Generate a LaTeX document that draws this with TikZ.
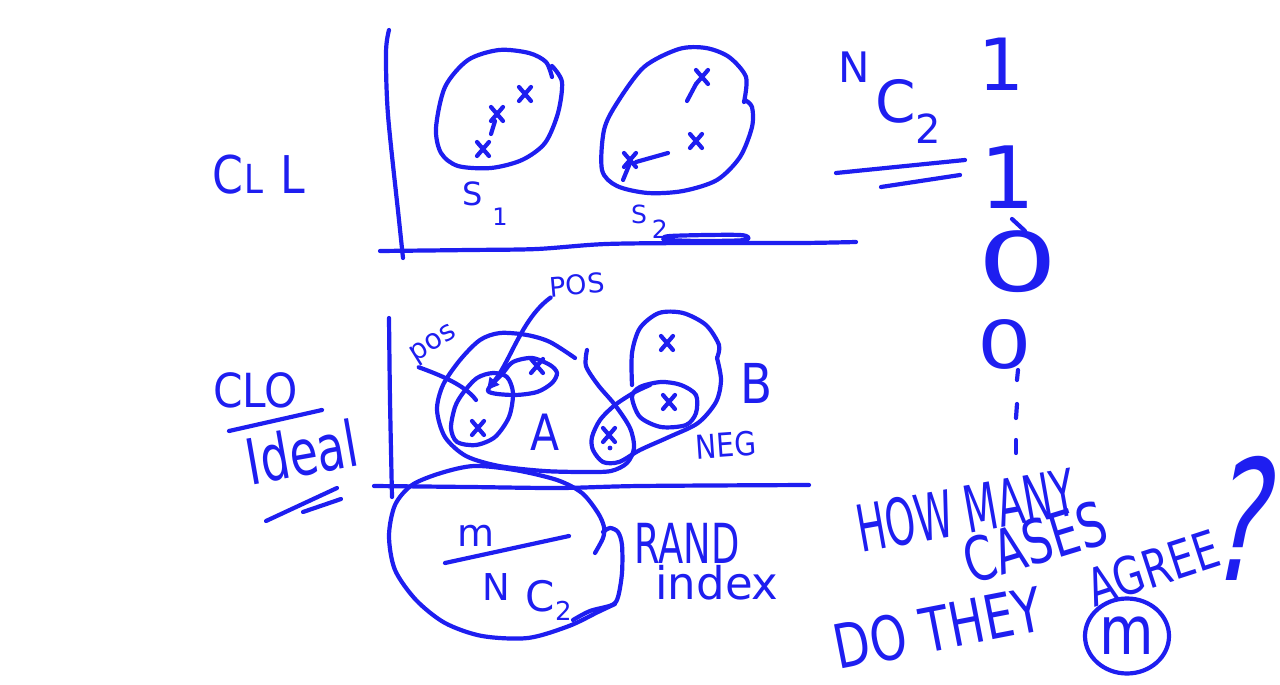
\documentclass[tikz,border=0pt]{standalone}
\usepackage{fontspec}
\usepackage{graphicx}
\setmainfont{DejaVu Sans}
\usetikzlibrary{arrows.meta,shapes.geometric}
\definecolor{ink}{RGB}{30,30,240}
\newcommand{\hfs}[1]{\fontsize{#1}{#1}\selectfont}
\begin{document}
\begin{tikzpicture}[x=1pt,y=-1pt,
  pen/.style={draw=ink,line width=4.2pt,line cap=round,line join=round},
  lbl/.style={text=ink,inner sep=0pt,outer sep=0pt},
  xmk/.pic={\draw[pen] (-6,-7)--(6,7) (-6,7)--(6,-7);}]
\fill[white] (0,0) rectangle (1280,685);
\useasboundingbox (0,0) rectangle (1280,685);

% ---------- top panel (CLL) ----------
\node[lbl,font=\hfs{52},anchor=base west,xscale=0.85] (cll) at (212,193) {C\hspace{2pt}{\hfs{40}L}\hspace{20pt}L};
\draw[pen] plot[smooth] coordinates {(389,30)(386,52)(388,115)(399,220)(403,258)};
\draw[pen] plot[smooth] coordinates {(380,251)(470,250)(537,249)(606,244)(700,243)(801,243)(856,242)};
% S1
\draw[pen] plot[smooth] coordinates {(552,77)(546,62)(529,53)(499,50)(468,60)(445,87)(436,128)(441,153)(458,166)(491,168)(522,160)(545,143)(558,113)(562,82)(552,66)};
\pic (a1) at (525,94) {xmk};
\pic (a2) at (497,114) {xmk};
\pic (a3) at (483,149) {xmk};
\draw[pen] (495,121)--(491,134);
\node[lbl,font=\hfs{32},anchor=base west] (s1) at (462,205) {S\hspace{10pt}\raisebox{-20pt}{\hfs{24}1}};
% S2
\draw[pen] plot[smooth] coordinates {(744,102)(746,77)(729,57)(706,48)(679,49)(644,67)(617,103)(604,130)(602,170)(617,186)(648,193)(683,191)(717,180)(740,157)(752,127)(752,107)(745,100)};
\pic (b1) at (702,77) {xmk};
\pic (b2) at (696,141) {xmk};
\pic (b3) at (630,160) {xmk};
\draw[pen] (696,84)--(687,101);
\draw[pen] (636,162)--(668,153);
\draw[pen] (630,163)--(623,180);
\node[lbl,font=\hfs{25},anchor=base west] (s2) at (631,223) {S\hspace{5pt}\raisebox{-15pt}{2}};
\draw[pen] plot[smooth] coordinates {(664,240)(670,236)(740,235)(745,240)(700,241)(666,240)};

% ---------- right column ----------
\node[lbl,anchor=base west] (nc) at (838,122) {{\hfs{42}\raisebox{40pt}{N}}\hspace{6pt}{\hfs{58}C}{\hfs{40}\raisebox{-21pt}{2}}};
\draw[pen] (836,173) -- (965,160);
\draw[pen] (881,187) -- (960,175);
\node[lbl,font=\hfs{72},anchor=base] (one1) at (1001,91) {1};
\node[lbl,font=\hfs{86},anchor=base] (one2) at (1008,208) {1};
\node[lbl,font=\hfs{82},anchor=base,xscale=1.55] (zero1) at (1018,291) {0};
\draw[pen] (1012,219)--(1025,231);
\node[lbl,font=\hfs{66},anchor=base,xscale=1.3] (zero2) at (1005,368) {0};
\draw[pen] (1018,370)--(1017,380);
\draw[pen] (1017,404)--(1016,418);
\draw[pen] (1016,440)--(1016,453);

\node[lbl,font=\hfs{48},rotate=10,xscale=0.8,yscale=1.35] (how) at (966,510) {HOW MANY};
\node[lbl,font=\hfs{47},rotate=17,xscale=0.95,yscale=1.3] (cases) at (1035,542) {CASES};
\node[lbl,font=\hfs{47},rotate=11,yscale=1.3] (dothey) at (938,628) {DO THEY};
\node[lbl,font=\hfs{40},rotate=18,yscale=1.3] (agree) at (1153,568) {AGREE};
\node[lbl,font=\hfs{108},xslant=0.2,yscale=1.55] (qm) at (1247,518) {?};
\node[pen,ellipse,minimum width=84pt,minimum height=75pt,inner sep=0pt,text=ink,font=\hfs{56}] (mcirc) at (1127,636) {\scalebox{1}[1.2]{m}};

% ---------- lower panel (CLO / Ideal) ----------
\node[lbl,font=\hfs{47},anchor=base west,xscale=0.9] (clo) at (213,407) {CLO};
\draw[pen] (229,431) -- (322,410);
\node[lbl,font=\hfs{46},rotate=10,yscale=1.38] (ideal) at (302,452) {Ideal};
\draw[pen] (266,521)--(337,488);
\draw[pen] (303,512)--(341,499);

\draw[pen] plot[smooth] coordinates {(389,318)(390,400)(392,497)};
\draw[pen] plot[smooth] coordinates {(374,486)(470,487)(560,488)(640,486)(809,485)};

% A loop
\draw[pen] plot[smooth] coordinates {(575,358)(550,342)(527,335)(500,333)(480,340)(460,360)(443,385)(437,410)(445,437)(466,456)(499,466)(544,471)(585,472)(611,471)(627,463)(634,448)(630,428)(615,405)(598,385)(586,366)(587,350)};
\draw[pen] plot[smooth cycle] coordinates {(463,393)(477,378)(493,373)(507,377)(513,393)(509,417)(495,437)(476,445)(457,442)(451,428)(455,407)};
\draw[pen] plot[smooth cycle] coordinates {(488,391)(503,373)(513,362)(532,358)(550,365)(557,373)(552,383)(537,392)(513,395)};
\pic (c1) at (478,428) {xmk};
\pic (c2) at (537,366) {xmk};
\node[lbl,font=\hfs{50},xscale=0.85] (A) at (545,432) {A};

% B and NEG
\draw[pen] plot[smooth] coordinates {(717,358)(719,345)(706,325)(683,313)(659,313)(640,328)(632,353)(632,385)};
\draw[pen] plot[smooth] coordinates {(717,358)(721,380)(716,402)(698,423)(669,437)(640,450)(619,462)(603,462)(593,450)(592,437)(600,420)(615,405)(635,392)(650,385)};
\draw[pen] plot[smooth cycle] coordinates {(632,397)(640,387)(661,382)(681,385)(696,395)(696,413)(686,425)(661,427)(640,417)};
\pic (d1) at (667,343) {xmk};
\pic (d2) at (669,402) {xmk};
\pic (d3) at (609,435) {xmk};
\fill[ink] (610,448) circle (2.4);
\node[lbl,font=\hfs{55},xscale=0.85] (B) at (757,383) {B};
\node[lbl,font=\hfs{33},rotate=4,xscale=0.85] (neg) at (726,445) {NEG};

% POS pointers
\node[lbl,font=\hfs{27},rotate=5] (posU) at (577,285) {POS};
\node[lbl,font=\hfs{28},rotate=32] (posL) at (434,345) {pos};
\coordinate (tipA) at (487,390);
\coordinate (tipB) at (476,400);
\draw[pen,-{Triangle[length=12pt,width=12pt]}] (posU.south west) .. controls (522,318) and (510,362) .. (tipA);
\draw[pen] (posL.south west) .. controls (440,375) and (465,385) .. (tipB);

% Rand index circle
\draw[pen] plot[smooth] coordinates {(595,553)(603,538)(604,527)(598,513)(582,493)(557,480)(515,470)(474,466)(441,473)(412,485)(395,505)(389,536)(395,570)(416,600)(445,623)(482,636)(528,638)(569,626)(598,612)(615,604)};
\draw[pen] plot[smooth] coordinates {(603,532)(610,528)(618,532)(622,545)(622,573)(618,597)(612,605)(590,611)(573,620)};
\node[lbl,font=\hfs{38}] (mnum) at (476,536) {m};
\draw[pen] (445,563) -- (569,536);
\node[lbl,anchor=base west] (den) at (482,611) {{\hfs{37}\raisebox{11pt}{N}}\hspace{16pt}{\hfs{42}C}{\hfs{26}\raisebox{-9pt}{2}}};
\node[lbl,font=\hfs{46},xscale=0.8,yscale=1.2] (rand) at (687,543) {RAND};
\node[lbl,font=\hfs{45}] (index) at (717,583) {index};
\end{tikzpicture}
\end{document}
